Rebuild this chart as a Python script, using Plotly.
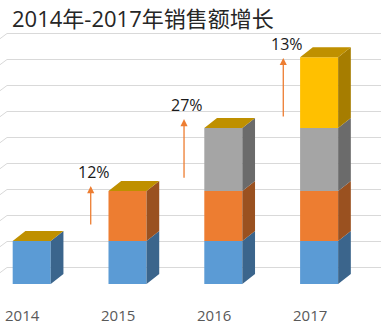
import plotly.graph_objects as go

# ---------------- data ----------------
years = ["2014", "2015", "2016", "2017"]
series_names = ["2014年", "2015年新增", "2016年新增", "2017年新增"]
blue = [33, 33, 33, 33]
orange = [0, 38.5, 38.5, 38.5]
gray = [0, 0, 48.5, 48.5]
yellow = [0, 0, 0, 54.5]
growth_labels = ["12%", "27%", "13%"]          # for 2015, 2016, 2017
grid_values = list(range(0, 181, 20))

# ---------------- style ----------------
front_colors = ["#5B9BD5", "#ED7D31", "#A5A5A5", "#FFC000"]
side_colors = ["#3B658C", "#9A5120", "#6B6B6B", "#A67D00"]
top_color = "#BF9000"
bar_w = 0.397
ddx = 0.1326       # depth offset (x, category units)
ddy = 7.7          # depth offset (y, value units)
front_base = -12.7 # front face floor relative to back wall
grid_color = "#D9D9D9"
font_latin = "Open Sans, Noto Sans CJK SC, sans-serif"

series = [blue, orange, gray, yellow]
xs = list(range(len(years)))

fig = go.Figure()

# back wall gridlines with small left side-wall segment (below all traces)
shapes = []
x_left, x_wall, x_right = -0.331, -0.258, 3.646
for g in grid_values:
    shapes.append(dict(type="path", xref="x", yref="y", layer="below",
                       path=f"M {x_left},{g - 4.0} L {x_wall},{g} L {x_right},{g}",
                       line=dict(color=grid_color, width=1)))

# compute stacking
bases = [[0.0] * len(years) for _ in series]
for i in range(len(years)):
    acc = front_base
    for s in range(len(series)):
        bases[s][i] = acc
        acc += series[s][i]

# side faces
for s, vals in enumerate(series):
    px, py = [], []
    for i in xs:
        if vals[i] <= 0:
            continue
        b = bases[s][i]
        t = b + vals[i]
        xr = i + bar_w / 2
        px += [xr, xr + ddx, xr + ddx, xr, xr, None]
        py += [b, b + ddy, t + ddy, t, b, None]
    fig.add_trace(go.Scatter(x=px, y=py, mode="lines", fill="toself",
                             fillcolor=side_colors[s],
                             line=dict(width=0, color=side_colors[s]),
                             hoverinfo="skip", showlegend=False))

# top caps
tx, ty = [], []
for i in xs:
    top = front_base + sum(series[s][i] for s in range(len(series)))
    xl, xr = i - bar_w / 2, i + bar_w / 2
    tx += [xl, xr, xr + ddx, xl + ddx, xl, None]
    ty += [top, top, top + ddy, top + ddy, top, None]
fig.add_trace(go.Scatter(x=tx, y=ty, mode="lines", fill="toself",
                         fillcolor=top_color, line=dict(width=0, color=top_color),
                         hoverinfo="skip", showlegend=False))

# front faces
for s, vals in enumerate(series):
    bx = [i for i in xs if vals[i] > 0]
    fig.add_trace(go.Bar(x=bx, y=[vals[i] for i in bx],
                         base=[bases[s][i] for i in bx],
                         width=bar_w, name=series_names[s],
                         marker=dict(color=front_colors[s], line=dict(width=0)),
                         hoverinfo="skip", showlegend=False))

annotations = []
# year labels
for i, yr in enumerate(years):
    annotations.append(dict(x=i - 0.1, y=-36.5, xref="x", yref="y", text=yr,
                            showarrow=False, font=dict(family=font_latin, size=15, color="#595959")))

# growth arrows and labels
arrow_tail = [31.9, 67.8, 115.0]
arrow_tip = [62.7, 114.2, 161.2]
arrow_dx = [-0.384, -0.41, -0.374]
for k, lab in enumerate(growth_labels):
    i = k + 1
    ax_ = i + arrow_dx[k]
    annotations.append(dict(x=ax_, y=arrow_tip[k], ax=ax_, ay=arrow_tail[k],
                            xref="x", yref="y", axref="x", ayref="y", text="",
                            showarrow=True, arrowhead=2, arrowsize=1.1, arrowwidth=1.3,
                            arrowcolor="#ED7D31"))
    annotations.append(dict(x=ax_ + 0.035, y=arrow_tip[k] + 10.5, xref="x", yref="y",
                            text=lab, showarrow=False,
                            font=dict(family=font_latin, size=16, color="#1A1A1A")))

# title
annotations.append(dict(x=10 / 381, y=1 - 17.5 / 325, xref="paper", yref="paper",
                        xanchor="left", yanchor="middle", showarrow=False,
                        text="2014年-2017年销售额增长",
                        font=dict(family=font_latin, size=22, color="#262626")))

fig.update_layout(
    width=381, height=325, autosize=False,
    margin=dict(l=0, r=0, t=0, b=0),
    paper_bgcolor="white", plot_bgcolor="white",
    barmode="overlay",
    xaxis=dict(range=[-0.331, 3.646], visible=False, fixedrange=True),
    yaxis=dict(range=[-44.23, 205.77], visible=False, fixedrange=True),
    annotations=annotations,
    shapes=shapes,
)

fig.write_html("out.html")
